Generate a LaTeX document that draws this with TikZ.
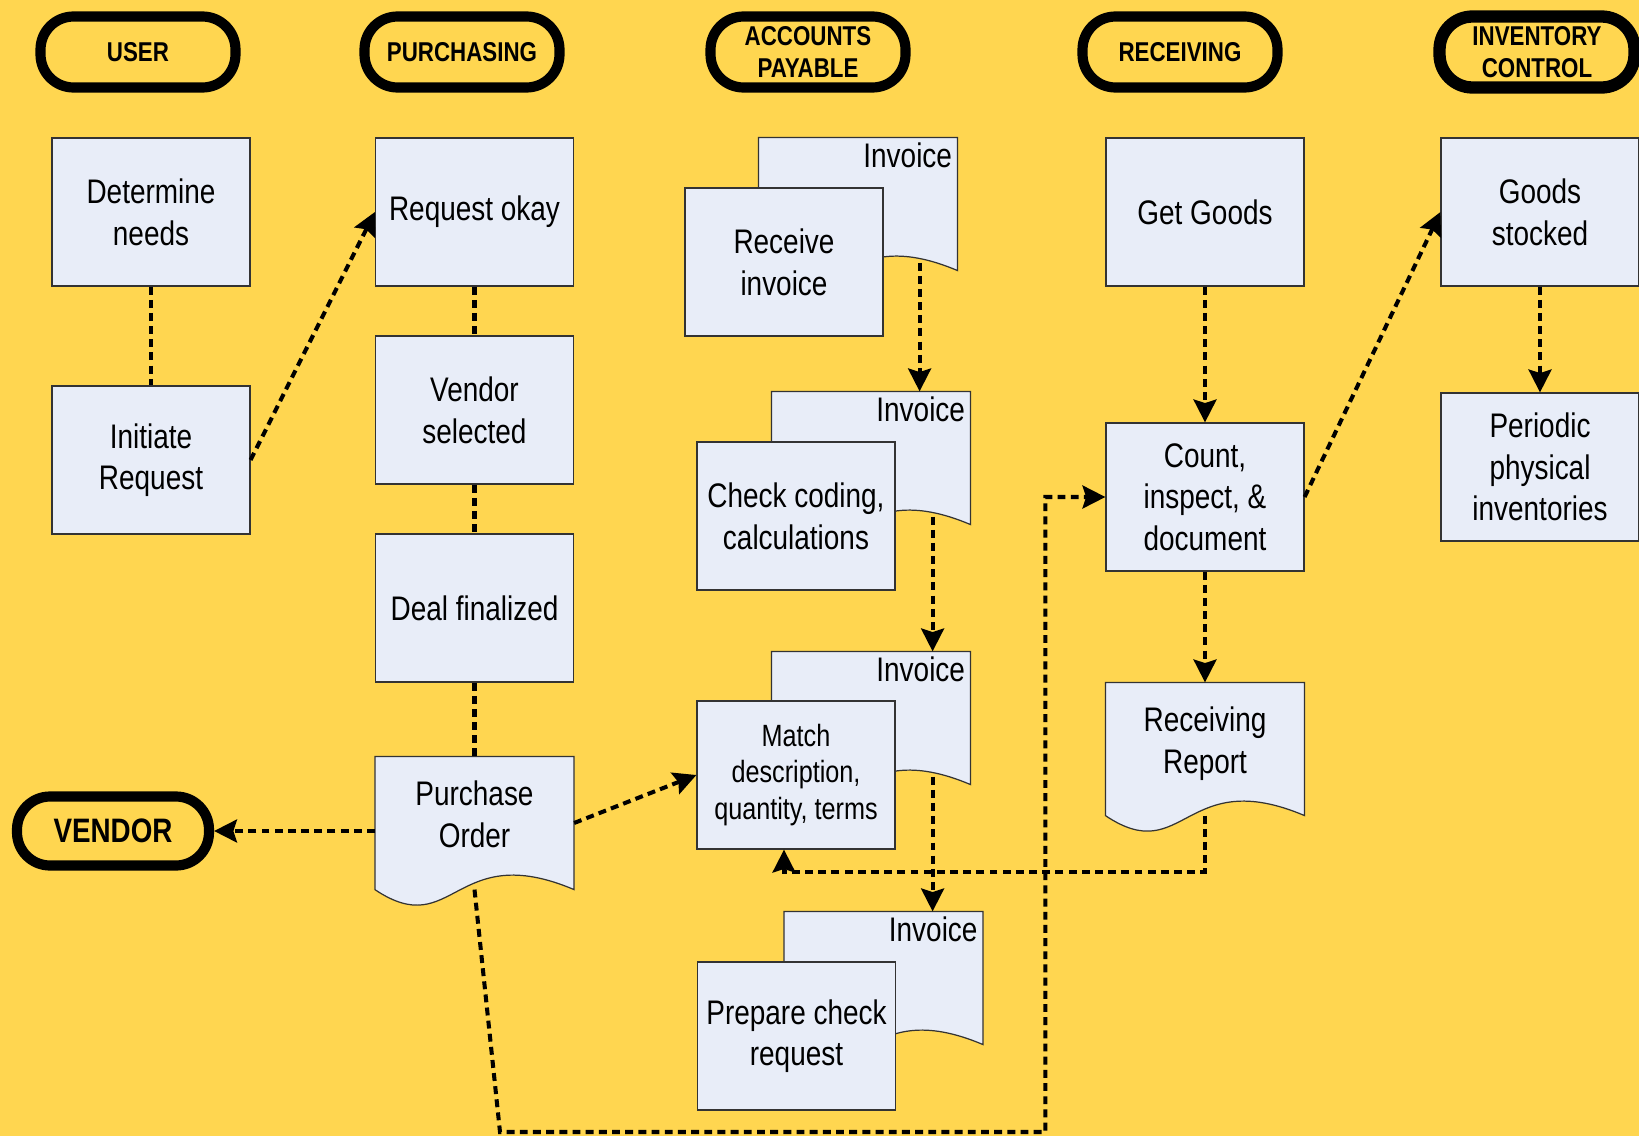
\documentclass[tikz,border=0pt]{standalone}
\usepackage{fontspec}
\setmainfont{Liberation Sans}[FakeStretch=0.82]
\usetikzlibrary{positioning, calc, arrows.meta, backgrounds}

\definecolor{sheet}{RGB}{255,214,80}
\definecolor{paper}{RGB}{232,237,248}

\begin{document}
\begin{tikzpicture}[x=0.02cm, y=-0.02cm,
    dept/.style={draw, line width=5.8pt, rounded corners=0.66cm, minimum width=3.9cm,
      minimum height=1.42cm, align=center, font=\bfseries\fontsize{15.5}{18.4}\selectfont},
    task/.style={draw=black!80, line width=0.7pt, fill=paper, minimum width=3.96cm,
      minimum height=2.96cm, align=center, font=\fontsize{19.4}{23.7}\selectfont},
    doc/.style={task, draw=none, fill=none, minimum height=2.64cm, text depth=10pt},
    inv/.style={doc, label={[anchor=north east, inner sep=3pt,
      font=\fontsize{19.4}{23.7}\selectfont]north east:Invoice}},
    flow/.style={line width=2.3pt, dash pattern=on 4.5pt off 3pt},
    >={Stealth[length=13pt, width=13pt, inset=2pt]}]

  \useasboundingbox (0,0) rectangle (1639,1136);

  % departments
  \node[dept] (user) at (138,52) {USER};
  \node[dept] (purch) at (462,52) {PURCHASING};
  \node[dept] (ap) at (808,52) {ACCOUNTS\\PAYABLE};
  \node[dept] (recv) at (1180,52) {RECEIVING};
  \node[dept, line width=7pt] (ictl) at (1537,52) {INVENTORY\\CONTROL};
  \node[dept, minimum width=3.84cm, minimum height=1.38cm,
    font=\bfseries\fontsize{19.3}{23}\selectfont] (vendor) at (113,831) {VENDOR};

  % user and purchasing
  \node[task] (need) at (151,212) {Determine\\needs};
  \node[task] (init) at (151,460) {Initiate\\Request};
  \node[task] (okay) at (474.5,212) {Request okay};
  \node[task] (vsel) at (474.5,410) {Vendor\\selected};
  \node[task] (deal) at (474.5,608) {Deal finalized};
  \node[doc] (po) at (474.5,823) {Purchase\\Order};

  % accounts payable
  \node[inv] (inv1) at (858,204) {};
  \node[inv] (inv2) at (871,458) {};
  \node[inv] (inv3) at (871,718) {};
  \node[inv] (inv4) at (883.5,978) {};
  \node[task, anchor=north west] (rcv) at ($(inv1.north west)+(-74,50)$) {Receive\\invoice};
  \node[task, anchor=north west] (chk) at ($(inv2.north west)+(-75,50)$) {Check coding,\\calculations};
  \node[task, anchor=north west, font=\fontsize{17.5}{21}\selectfont] (match)
    at ($(inv3.north west)+(-75,49)$) {Match\\description,\\quantity, terms};
  \node[task, anchor=north west] (prep) at ($(inv4.north west)+(-87,50)$) {Prepare check\\request};

  % receiving and inventory control
  \node[task] (get) at (1205,212) {Get Goods};
  \node[task] (count) at (1205,497) {Count,\\inspect, \&\\document};
  \node[doc] (rr) at (1205,749) {Receiving\\Report};
  \node[task] (stock) at (1540,212) {Goods\\stocked};
  \node[task] (peri) at (1540,467) {Periodic\\physical\\inventories};

  % document outlines
  \begin{scope}[on background layer]
    \fill[sheet] (0,0) rectangle (1639,1136);
    \foreach \d in {po, rr, inv1, inv2, inv3, inv4}
      \filldraw[fill=paper, draw=black!80, line width=0.7pt] (\d.north west) -- (\d.north east)
        -- (\d.south east) .. controls ($(\d.south west)+(79,-51)$) and ($(\d.south west)+(79,53)$)
        .. (\d.south west) -- cycle;
  \end{scope}

  % connectors
  \draw[flow] (need) -- (init);
  \draw[flow, ->] (init.east) -- (okay.west);
  \draw[flow] (okay) -- (vsel);
  \draw[flow] (vsel) -- (deal);
  \draw[flow] (deal) -- (po);
  \draw[flow, ->] (po.west |- vendor.east) -- (vendor.east);
  \draw[flow, ->] (po.east) -- (match.west);
  \coordinate (loop) at (500,1132);
  \draw[flow, ->] (po.south) -- (loop) -| ($(count.west)+(-60,0)$) -- (count.west);

  \foreach \a/\b in {inv1/inv2, inv2/inv3, inv3/inv4} {
    \coordinate (\a-out) at ($(\a.south east)+(-38,-8)$);
    \draw[flow, ->] (\a-out) -- (\a-out |- \b.north);
  }

  \draw[flow, ->] (get) -- (count);
  \draw[flow, ->] (count) -- (rr);
  \draw[flow, ->] (count.east) -- (stock.west);
  \draw[flow, ->] (stock) -- (peri);
  \draw[flow, ->] (rr.south) -- ++(0,56) -| ($(match.south)+(-12,0)$);
\end{tikzpicture}
\end{document}
